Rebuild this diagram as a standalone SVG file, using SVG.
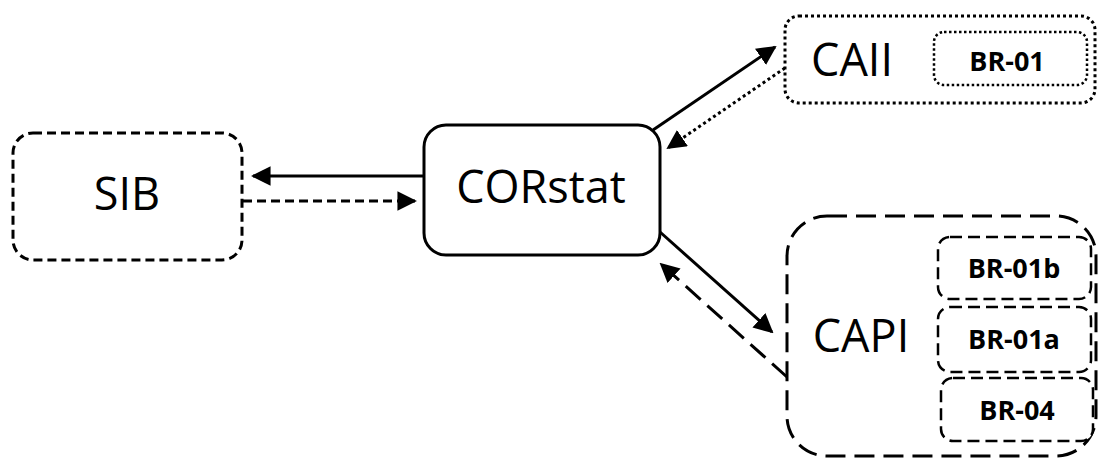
<svg xmlns="http://www.w3.org/2000/svg" width="1099" height="459" viewBox="0 0 1099 459">
<style>
.box{fill:#fff;stroke:#000;stroke-width:3}
.inner{stroke-width:2.5}
.dash{stroke-dasharray:9 5}
.dot{stroke-dasharray:3 3}
.dot2{stroke-dasharray:2.5 2.5}
.long{stroke-dasharray:20 9}
.mid{stroke-dasharray:12 6}
.lbl{font-family:"Open Sans","Noto Sans",sans-serif;font-size:45px;fill:#000;text-anchor:middle}
.br{font-family:"Open Sans","Noto Sans",sans-serif;font-size:27px;font-weight:bold;fill:#000;text-anchor:middle}
.ln{fill:none;stroke:#000;stroke-width:3}
</style>
<defs>
<marker id="ah" viewBox="0 0 10 10" refX="9" refY="5" markerWidth="6.5" markerHeight="6.5" markerUnits="strokeWidth" orient="auto">
<path d="M0,0 L10,5 L0,10 z" fill="#000"/>
</marker>
</defs>
<g id="connectors">
<line class="ln" x1="424" y1="176" x2="253" y2="176" marker-end="url(#ah)"/>
<line class="ln dash" x1="243" y1="201" x2="415" y2="201" marker-end="url(#ah)"/>
<line class="ln" x1="653" y1="130" x2="775" y2="47" marker-end="url(#ah)"/>
<line class="ln dot" x1="785" y1="68" x2="668" y2="148" marker-end="url(#ah)"/>
<line class="ln" x1="660" y1="232" x2="772" y2="332" marker-end="url(#ah)"/>
<line class="ln long" x1="787" y1="377" x2="661" y2="264" marker-end="url(#ah)"/>
</g>
<g id="SIB">
<rect class="box dash" x="13" y="133" width="229" height="127" rx="20"/>
<text class="lbl" x="127" y="210">SIB</text>
</g>
<g id="CORstat">
<rect class="box" x="424" y="125" width="236" height="130" rx="22"/>
<text class="lbl" x="541" y="203">CORstat</text>
</g>
<g id="CAII">
<rect class="box dot" x="785" y="16" width="310" height="87" rx="14"/>
<text class="lbl" x="852" y="76">CAII</text>
<g id="BR-01">
<rect class="box inner dot2" x="934" y="32" width="153" height="53" rx="10"/>
<text class="br" x="1007" y="71">BR-01</text>
</g>
</g>
<g id="CAPI">
<rect class="box long" x="787" y="216" width="309" height="240" rx="40"/>
<text class="lbl" x="861" y="352">CAPI</text>
<g id="BR-01b">
<rect class="box inner mid" x="938" y="237" width="153" height="62" rx="12"/>
<text class="br" x="1014" y="278">BR-01b</text>
</g>
<g id="BR-01a">
<rect class="box inner mid" x="938" y="307" width="153" height="65" rx="12"/>
<text class="br" x="1014" y="349">BR-01a</text>
</g>
<g id="BR-04">
<rect class="box inner mid" x="941" y="378" width="152" height="63" rx="12"/>
<text class="br" x="1017" y="420">BR-04</text>
</g>
</g>
</svg>
